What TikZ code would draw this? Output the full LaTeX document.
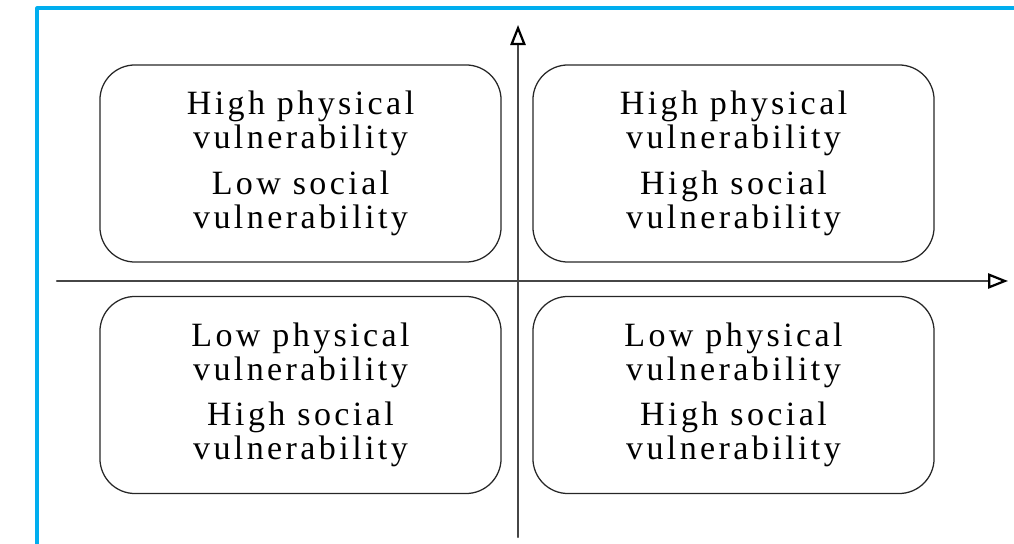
\documentclass[tikz,border=0pt]{standalone}
\usepackage{fontspec}
\setmainfont{Liberation Serif}
\newfontfamily\quadfont[LetterSpace=10]{Liberation Serif}
\usetikzlibrary{arrows.meta}
\definecolor{frameblue}{RGB}{0,174,239}
\definecolor{axisgray}{RGB}{70,70,70}

\begin{document}
\begin{tikzpicture}[x=0.025cm,y=-0.025cm,line cap=round,line join=round,
  quad/.style={draw=black!85,line width=0.9pt,rounded corners=0.875cm,minimum width=10.025cm,minimum height=4.925cm,inner sep=0pt,align=center,font=\quadfont\fontsize{24.2}{24.2}\selectfont},
  axis/.style={axisgray,line width=1.5pt,-{Triangle[open,length=0.5cm,width=0.38cm,line width=1.6pt,color=black]}}]
\useasboundingbox (0,0) rectangle (1014,544);
% frame
\draw[frameblue,line width=2.2pt,line cap=butt] (37,544) -- (37,8) -- (1014,8);
% axes
\coordinate (xs) at (57,281);
\coordinate (xe) at (1008,281);
\coordinate (ys) at (518,537);
\coordinate (ye) at (518,25);
\draw[axis] (xs) -- (xe);
\draw[axis] (ys) -- (ye);
% quadrants
\node[quad] (hpls) at (300.5,163.5) {High physical\\vulnerability\\[8pt]Low social\\vulnerability};
\node[quad] (hphs) at (733.5,163.5) {High physical\\vulnerability\\[8pt]High social\\vulnerability};
\node[quad] (lphs) at (300.5,395) {Low physical\\vulnerability\\[8pt]High social\\vulnerability};
\node[quad] (lphs2) at (733.5,395) {Low physical\\vulnerability\\[8pt]High social\\vulnerability};
\end{tikzpicture}
\end{document}
